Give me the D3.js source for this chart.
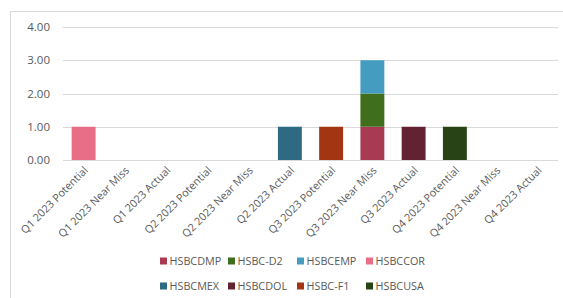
<!DOCTYPE html>
<html><head><meta charset="utf-8">
<script src="https://cdn.jsdelivr.net/npm/d3@7"></script>
<style>
html,body{margin:0;padding:0;background:#fff;}
svg{display:block;font-family:"Open Sans","Liberation Sans",sans-serif;}
</style></head>
<body><svg id="c" width="563" height="298"></svg>
<script>
const categories = ["Q1 2023 Potential","Q1 2023 Near Miss","Q1 2023 Actual","Q2 2023 Potential","Q2 2023 Near Miss","Q2 2023 Actual","Q3 2023 Potential","Q3 2023 Near Miss","Q3 2023 Actual","Q4 2023 Potential","Q4 2023 Near Miss","Q4 2023 Actual"];
const seriesNames = ["HSBCDMP","HSBC-D2","HSBCEMP","HSBCCOR","HSBCMEX","HSBCDOL","HSBC-F1","HSBCUSA"];
const HSBCDMP = [0,0,0,0,0,0,0,1,0,0,0,0];
const HSBC_D2 = [0,0,0,0,0,0,0,1,0,0,0,0];
const HSBCEMP = [0,0,0,0,0,0,0,1,0,0,0,0];
const HSBCCOR = [1,0,0,0,0,0,0,0,0,0,0,0];
const HSBCMEX = [0,0,0,0,0,1,0,0,0,0,0,0];
const HSBCDOL = [0,0,0,0,0,0,0,0,1,0,0,0];
const HSBC_F1 = [0,0,0,0,0,0,1,0,0,0,0,0];
const HSBCUSA = [0,0,0,0,0,0,0,0,0,1,0,0];
const seriesValues = [HSBCDMP,HSBC_D2,HSBCEMP,HSBCCOR,HSBCMEX,HSBCDOL,HSBC_F1,HSBCUSA];
const colors = ["#A83A53","#3F6F1C","#449DC0","#E86E87","#2E6A82","#632232","#A33512","#284416"];
const yTicks = [0,1,2,3,4];

const svg = d3.select("#c");
// chart frame
svg.append("rect").attr("x",10.5).attr("y",11.5).attr("width",600).attr("height",400)
  .attr("fill","none").attr("stroke","#d9d9d9");

const x = d3.scaleBand().domain(categories).range([63,558]).paddingInner(0.42).paddingOuter(0.21);
const y = d3.scaleLinear().domain([0,4]).range([160,27]);

// gridlines
svg.append("g").selectAll("line").data(yTicks).join("line")
  .attr("x1",63).attr("x2",558)
  .attr("y1",d=>Math.round(y(d))+0.5).attr("y2",d=>Math.round(y(d))+0.5)
  .attr("stroke","#d9d9d9").attr("stroke-width",1);

// y axis labels
const yAxis = d3.axisLeft(y).tickValues(yTicks).tickFormat(d3.format(".2f")).tickSize(0).tickPadding(0);
const ga = svg.append("g").attr("transform","translate(50,0)").call(yAxis);
ga.select(".domain").remove();
ga.selectAll("text").attr("fill","#595959").style("font-size","11.5px").style("font-family","'Open Sans','Liberation Sans',sans-serif");

// stacked data
const rows = categories.map((c,i)=>{const r={cat:c}; seriesNames.forEach((s,j)=>r[s]=seriesValues[j][i]); return r;});
const stacked = d3.stack().keys(seriesNames)(rows);
svg.append("g").selectAll("g").data(stacked).join("g")
  .attr("fill",(d,i)=>colors[i])
  .selectAll("rect").data(d=>d.filter(p=>p[1]-p[0]>0)).join("rect")
  .attr("x",d=>x(d.data.cat)).attr("width",x.bandwidth())
  .attr("y",d=>y(d[1])).attr("height",d=>y(d[0])-y(d[1]));

// x axis labels
const xAxis = d3.axisBottom(x).tickSize(0).tickPadding(0);
const gx = svg.append("g").attr("transform","translate(0,160)").call(xAxis);
gx.select(".domain").remove();
gx.selectAll("text").attr("fill","#595959").style("font-size","10.8px")
  .style("font-family","'Open Sans','Liberation Sans',sans-serif")
  .attr("text-anchor","end").attr("dy","0")
  .attr("transform","translate(5,11) rotate(-45)");

// legend
const legendPos = [[160,261],[228,261],[297,261],[366,261],[160,286],[228,286],[297,286],[366,286]];
const lg = svg.append("g").selectAll("g").data(seriesNames).join("g")
  .attr("transform",(d,i)=>`translate(${legendPos[i][0]},${legendPos[i][1]})`);
lg.append("rect").attr("x",0).attr("y",-3.5).attr("width",7).attr("height",7).attr("fill",(d,i)=>colors[i]);
lg.append("text").attr("x",9.5).attr("y",0).attr("dy","0.35em").text(d=>d)
  .attr("fill","#595959").style("font-size","10.8px");
</script></body></html>
